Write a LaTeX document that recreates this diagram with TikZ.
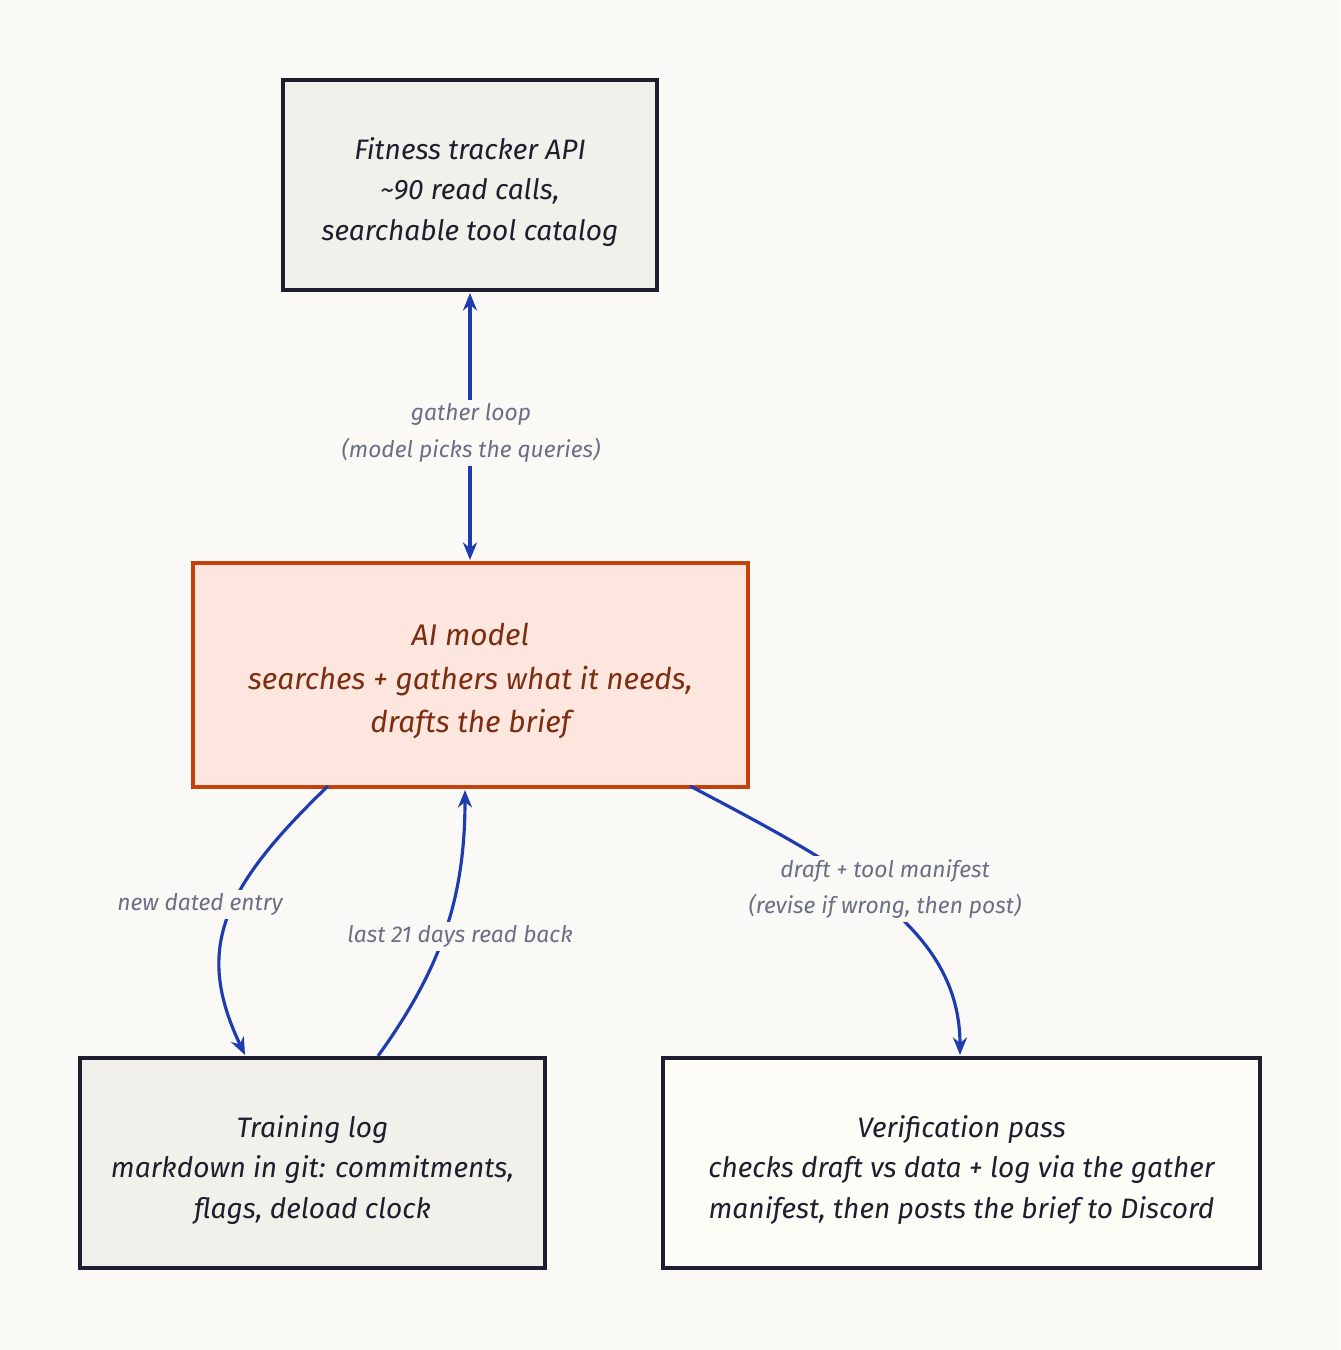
\documentclass[tikz,border=0pt]{standalone}
\usepackage{fontspec}
\setmainfont{Fira Sans}
\usetikzlibrary{arrows.meta}
\definecolor{bg}{HTML}{FAF9F5}
\definecolor{boxfill}{HTML}{F2F0EA}
\definecolor{aifill}{HTML}{FCE6DD}
\definecolor{aiedge}{HTML}{C2410C}
\definecolor{aitext}{HTML}{7C2D12}
\definecolor{verfill}{HTML}{FDFCF7}
\definecolor{ink}{HTML}{1E1E2E}
\definecolor{arrow}{HTML}{1E3CB0}
\definecolor{lbl}{HTML}{6B6F85}
\begin{document}
\begin{tikzpicture}[x=0.02cm,y=-0.02cm,
  box/.style={draw=ink,line width=2.2pt,fill=boxfill,align=center,text=ink,
    font=\fontsize{16}{23}\selectfont\itshape,inner sep=0pt},
  conn/.style={draw=arrow,line width=1.8pt,-{Stealth[length=10pt,width=8pt]}},
  lab/.style={text=lbl,font=\fontsize{13}{21}\selectfont\itshape,align=center,fill=bg,inner sep=2pt}]
\fill[bg] (0,0) rectangle (1340,1350);
\node[box,minimum width=374*0.02cm,minimum height=210*0.02cm] (api) at (470,185) {};
\node[text=ink,font=\fontsize{16}{23}\selectfont\itshape,align=center] at (470,192)
  {Fitness tracker API\\\textasciitilde 90 read calls,\\searchable tool catalog};
\node[box,draw=aiedge,fill=aifill,text=aitext,line width=2.8pt,font=\fontsize{17}{25}\selectfont\itshape,
  minimum width=555*0.02cm,minimum height=224*0.02cm] (ai) at (470.5,675) {};
\node[text=aitext,font=\fontsize{17}{25}\selectfont\itshape,align=center] at (470.5,681)
  {AI model\\searches + gathers what it needs,\\drafts the brief};
\node[box,minimum width=465*0.02cm,minimum height=210*0.02cm] (log) at (312.5,1163) {};
\node[text=ink,font=\fontsize{16}{23}\selectfont\itshape,align=center] at (312.5,1170)
  {Training log\\markdown in git: commitments,\\flags, deload clock};
\node[box,fill=verfill,minimum width=597*0.02cm,minimum height=210*0.02cm] (ver) at (961.5,1163) {};
\node[text=ink,font=\fontsize{16}{23}\selectfont\itshape,align=center] at (961.5,1170)
  {Verification pass\\checks draft vs data + log via the gather\\manifest, then posts the brief to Discord};
\coordinate (a1) at (470,293); \coordinate (a2) at (470,560);
\draw[conn,{Stealth[length=10pt,width=8pt]}-{Stealth[length=10pt,width=8pt]}] (a1) -- (a2);
\node[lab] (l1) at (471,433) {gather loop\\(model picks the queries)};
\coordinate (b1) at (328,786); \coordinate (b2) at (245,1055);
\draw[conn] (b1) .. controls (220,890) and (195,950) .. (b2);
\node[lab] (l2) at (200,904) {new dated entry};
\coordinate (c1) at (378,1056); \coordinate (c2) at (465,790);
\draw[conn] (c1) .. controls (440,970) and (465,900) .. (c2);
\node[lab] (l3) at (460,936) {last 21 days read back};
\coordinate (d1) at (690,786); \coordinate (d2) at (960,1055);
\draw[conn] (d1) .. controls (850,870) and (960,930) .. (d2);
\node[lab] (l4) at (885,889) {draft + tool manifest\\(revise if wrong, then post)};
\end{tikzpicture}
\end{document}
